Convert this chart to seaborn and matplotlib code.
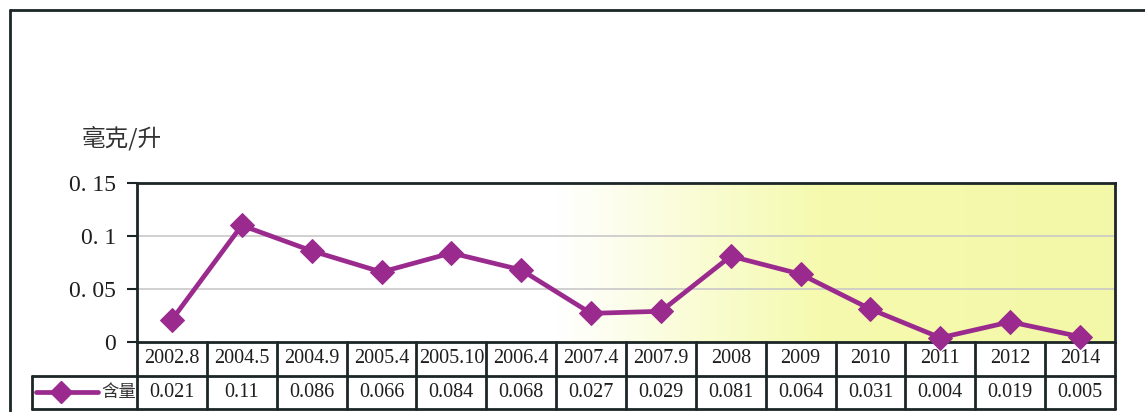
import numpy as np
import pandas as pd
import matplotlib
matplotlib.use("Agg")
import matplotlib.pyplot as plt
from matplotlib.lines import Line2D
from matplotlib.colors import LinearSegmentedColormap
import seaborn as sns

# Sampling dates and measured content (mg/L)
periods = ["2002.8", "2004.5", "2004.9", "2005.4", "2005.10", "2006.4", "2007.4",
           "2007.9", "2008", "2009", "2010", "2011", "2012", "2014"]
content = [0.021, 0.11, 0.086, 0.066, 0.084, 0.068, 0.027,
           0.029, 0.081, 0.064, 0.031, 0.004, 0.019, 0.005]
series_name = "含量"
unit_label = "毫克/升"
y_ticks = [0, 0.05, 0.1, 0.15]
y_tick_labels = ["0", "0. 05", "0. 1", "0. 15"]

sns.set_theme(style="white")
plt.rcParams["font.family"] = ["Liberation Serif", "Noto Sans CJK SC", "DejaVu Sans"]

W, H = 1145, 412
fig = plt.figure(figsize=(W / 100, H / 100), dpi=100)
fig.patch.set_facecolor("white")

# plot area in pixel coordinates
px_l, px_r, px_t, px_b = 137, 1115, 183, 342
ax = fig.add_axes([px_l / W, 1 - px_b / H, (px_r - px_l) / W, (px_b - px_t) / H])

line_col = "#9a2a8e"
edge_col = "#1c2626"
text_col = "#1e1e1e"

df = pd.DataFrame({"pos": np.arange(len(periods)), "value": content})

# background: white on the left fading into pale yellow
cmap = LinearSegmentedColormap.from_list(
    "bg", [(0, "#ffffff"), (0.43, "#ffffff"), (0.70, "#f5faae"), (1.0, "#f3f8a8")])
grad = np.linspace(0, 1, 512).reshape(1, -1)
ax.imshow(grad, cmap=cmap, aspect="auto", extent=(-0.5, len(periods) - 0.5, 0, 0.15),
          zorder=0, interpolation="bilinear")

for yv in y_ticks[1:-1]:
    ax.axhline(yv, color="#c8c8c8", lw=1.2, zorder=1)

sns.lineplot(data=df, x="pos", y="value", ax=ax, sort=False, color=line_col,
             lw=3.4, marker="D", markersize=12, markeredgecolor=line_col,
             markerfacecolor=line_col, zorder=3, clip_on=False)

ax.set_xlim(-0.5, len(periods) - 0.5)
ax.set_ylim(0, 0.15)
ax.set_xticks([])
ax.set_yticks(y_ticks)
ax.set_yticklabels(y_tick_labels, fontsize=17, color=text_col)
ax.tick_params(axis="y", direction="out", length=7, width=1.5, color=edge_col, pad=8, left=True)
ax.set_xlabel("")
ax.set_ylabel("")
for s in ax.spines.values():
    s.set_color(edge_col)
    s.set_linewidth(2)

# data table under the plot area
ph = px_b - px_t
row_h = 33.5 / ph
leg_x = (32 - px_l) / (px_r - px_l)
tr = ax.get_xaxis_transform()
n = len(periods)
lw_t = 2
for k in range(n + 1):
    xb = k - 0.5
    ax.add_line(Line2D([xb, xb], [0, -2 * row_h], transform=tr, color=edge_col,
                       lw=lw_t, clip_on=False))
ax.add_line(Line2D([0, 1], [-row_h, -row_h], transform=ax.transAxes, color=edge_col,
                   lw=lw_t, clip_on=False))
ax.add_line(Line2D([leg_x, 1], [-2 * row_h, -2 * row_h], transform=ax.transAxes,
                   color=edge_col, lw=lw_t, clip_on=False))
ax.add_line(Line2D([leg_x, 0], [-row_h, -row_h], transform=ax.transAxes, color=edge_col,
                   lw=lw_t, clip_on=False))
ax.add_line(Line2D([leg_x, leg_x], [-row_h, -2 * row_h], transform=ax.transAxes,
                   color=edge_col, lw=lw_t, clip_on=False))

for k, (p, v) in enumerate(zip(periods, content)):
    ax.text(k, -0.5 * row_h, p, transform=tr, ha="center", va="center",
            fontsize=14.5, color=text_col, clip_on=False)
    ax.text(k, -1.5 * row_h, f"{v:g}", transform=tr, ha="center", va="center",
            fontsize=14.5, color=text_col, clip_on=False)

# legend key inside the table's first cell
ky = 1 - 392 / H
fig.add_artist(Line2D([36 / W, 98 / W], [ky, ky], color=line_col, lw=3.4,
                      transform=fig.transFigure))
fig.add_artist(Line2D([61 / W], [ky], color=line_col, marker="D", markersize=11,
                      transform=fig.transFigure))
fig.text(101 / W, ky, series_name, ha="left", va="center", fontsize=12.5,
         family=["Noto Sans CJK SC"], color="#333333")

# unit label
fig.text(82 / W, 1 - 138 / H, unit_label, ha="left", va="center", fontsize=17,
         family=["Noto Sans CJK SC"], color="#333333")

# outer frame (top and left edges)
fig.add_artist(Line2D([10 / W, 1], [1 - 10 / H, 1 - 10 / H], color=edge_col, lw=2,
                      transform=fig.transFigure))
fig.add_artist(Line2D([10 / W, 10 / W], [1 - 10 / H, 0], color=edge_col, lw=2,
                      transform=fig.transFigure))

fig.savefig("out.png", dpi=100)
